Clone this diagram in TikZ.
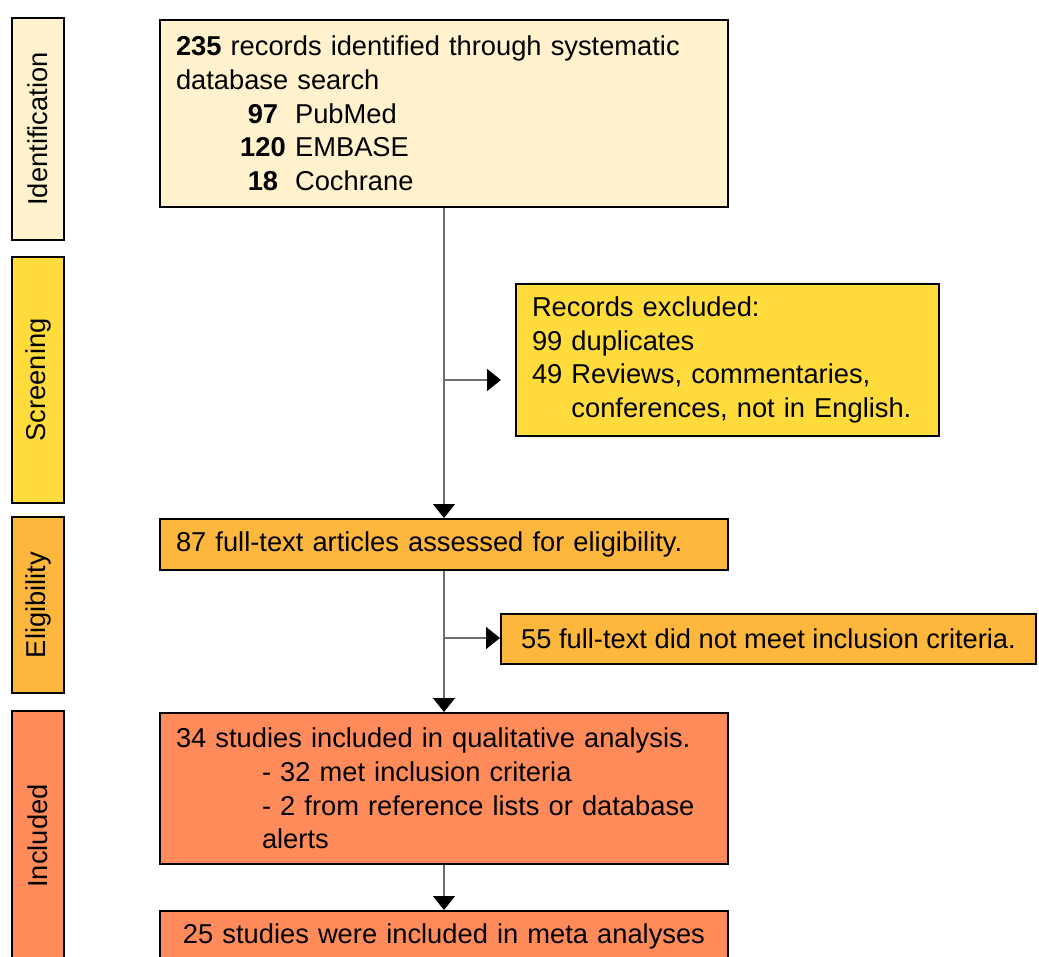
\documentclass[tikz,border=0pt]{standalone}
\usepackage{fontspec}
\setmainfont{Liberation Sans}
\usepackage{tikz}
\usetikzlibrary{positioning, arrows.meta}
\definecolor{idCream}{HTML}{FFF2CC}
\definecolor{scrYellow}{HTML}{FFDC3C}
\definecolor{eligOrange}{HTML}{FDB73C}
\definecolor{inclSalmon}{HTML}{FF8A5A}
\definecolor{linkGray}{HTML}{6E6E6E}

\begin{document}
\begin{tikzpicture}[x=1pt, y=-1pt,
  box/.style={draw=black, line width=2pt, anchor=north west, inner xsep=16pt, inner ysep=0pt, align=left, font=\fontsize{27.3}{33.7}\selectfont},
  stage/.style={draw=black, line width=2pt, rotate=90, minimum height=52pt, inner sep=0pt, font=\fontsize{27.3}{33.7}\selectfont},
  link/.style={draw=linkGray, line width=1.5pt, -{Triangle[length=14pt, width=22pt, color=black]}}]
\useasboundingbox (0,0) rectangle (1039,956);
\clip (0,0) rectangle (1039,956);
% stages on the left
\foreach \name/\ya/\yb/\col in {Identification/18/240/idCream, Screening/257/503/scrYellow, Eligibility/517/693/eligOrange, Included/711/961/inclSalmon}
{\node[stage, fill=\col, minimum width=\yb-\ya] (st\name) at (38,{(\ya+\yb)/2}) {\name};}
% main flow
\node[box, fill=idCream, text width=536pt, minimum height=187pt] (ident) at (159,19)
  {\textbf{235} records identified through systematic\\database search\\
   \hspace*{64pt}\makebox[46pt]{\textbf{97}} PubMed\\
   \hspace*{64pt}\makebox[46pt]{\textbf{120}} EMBASE\\
   \hspace*{64pt}\makebox[46pt]{\textbf{18}} Cochrane};
\node[box, fill=scrYellow, text width=391pt, minimum height=152pt] (excl) at (515,283)
  {Records excluded:\\99 duplicates\\49 Reviews, commentaries,\\\phantom{49 }conferences, not in English.};
\node[box, fill=eligOrange, text width=536pt, minimum height=51pt] (elig) at (159,518)
  {87 full-text articles assessed for eligibility.};
\node[box, fill=eligOrange, minimum width=535pt, minimum height=50pt] (notmet) at (500,613)
  {55 full-text did not meet inclusion criteria.};
\node[box, fill=inclSalmon, text width=536pt, minimum height=151pt] (qual) at (159,712)
  {34 studies included in qualitative analysis.\\
   \hspace*{86pt}- 32 met inclusion criteria\\
   \hspace*{86pt}- 2 from reference lists or database\\
   \hspace*{86pt}alerts};
\node[box, fill=inclSalmon, text width=536pt, minimum height=51pt, align=center] (meta) at (159,910)
  {25 studies were included in meta analyses};
% connectors
\coordinate (split1) at (443,380);
\coordinate (tip1) at (501,380);
\coordinate (split2) at (443,638);
\draw[link] (ident.south) -- (elig.north);
\draw[link] (split1) -- (tip1);
\draw[link] (elig.south) -- (qual.north);
\draw[link] (split2) -- (split2 -| notmet.west);
\draw[link] (qual.south) -- (meta.north);
\end{tikzpicture}
\end{document}
